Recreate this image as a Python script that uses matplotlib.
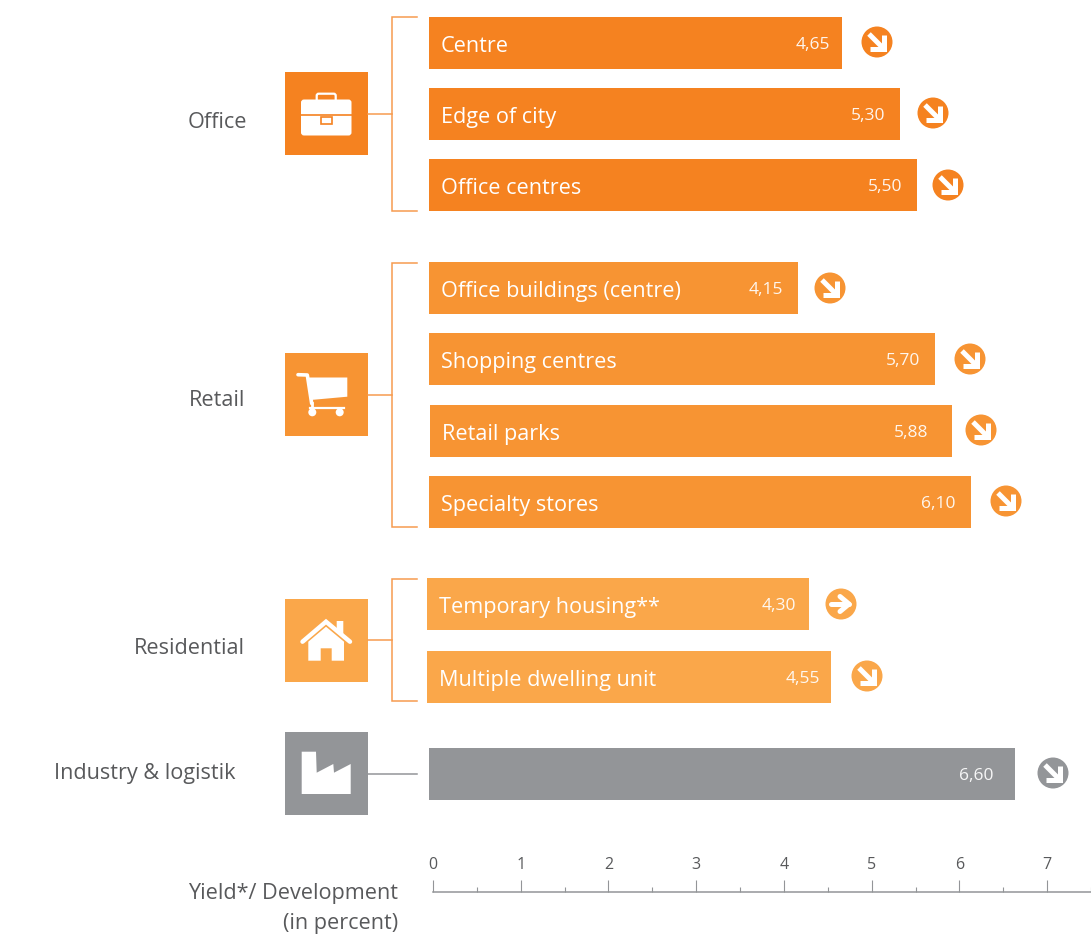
import matplotlib
matplotlib.use("Agg")
import matplotlib.pyplot as plt
from matplotlib.patches import Rectangle, Circle, Polygon, FancyBboxPatch

# Chart values
office_labels = ["Centre", "Edge of city", "Office centres"]
office_yields = [4.65, 5.30, 5.50]
retail_labels = ["Office buildings (centre)", "Shopping centres", "Retail parks", "Specialty stores"]
retail_yields = [4.15, 5.70, 5.88, 6.10]
residential_labels = ["Temporary housing**", "Multiple dwelling unit"]
residential_yields = [4.30, 4.55]
industry_labels = [""]
industry_yields = [6.60]
office_trend = ["down", "down", "down"]
retail_trend = ["down", "down", "down", "down"]
residential_trend = ["flat", "down"]
industry_trend = ["down"]
axis_ticks = [0, 1, 2, 3, 4, 5, 6, 7]

W, H = 1091, 934
ORANGE1, ORANGE2, ORANGE3, GREY = "#F58220", "#F79433", "#FAA74A", "#939598"
LINE_ORANGE = "#F79B4F"
TEXT = "#58595B"
FONT = "Open Sans"
PX_PER_UNIT_BAR = 88.8
PX_PER_UNIT_AXIS = 88.0
BAR_ZERO = 429
AXIS_ZERO = 433
LABEL_SIZE = 15.6

fig = plt.figure(figsize=(W / 100, H / 100), dpi=100, facecolor="white")

# Bars: x is in yield units, y in figure rows
bar_ax = fig.add_axes([0, 0, 1, 1])
bar_ax.set_xlim(-BAR_ZERO / PX_PER_UNIT_BAR, (W - BAR_ZERO) / PX_PER_UNIT_BAR)
bar_ax.set_ylim(H, 0)
bar_ax.axis("off")

# Overlay for icons, brackets and trend badges, in pixel units
deco = fig.add_axes([0, 0, 1, 1])
deco.set_xlim(0, W)
deco.set_ylim(H, 0)
deco.axis("off")
deco.patch.set_alpha(0)

groups = [
    dict(labels=office_labels, values=office_yields, trend=office_trend, color=ORANGE1,
         rows=[43, 114, 185], start=[0, 0, 0], text_x=[441, 441, 441],
         val_right=[830, 885, 902], badge=[(877, 42), (933, 113), (948, 185)]),
    dict(labels=retail_labels, values=retail_yields, trend=retail_trend, color=ORANGE2,
         rows=[288, 359, 431, 502], start=[0, 0, 1, 0], text_x=[441, 441, 442, 441],
         val_right=[783, 920, 928, 955], badge=[(830, 288), (970, 359), (981, 430), (1006, 501)]),
    dict(labels=residential_labels, values=residential_yields, trend=residential_trend, color=ORANGE3,
         rows=[604, 677], start=[-2, -2], text_x=[439, 439],
         val_right=[796, 820], badge=[(841, 604), (867, 676)]),
    dict(labels=industry_labels, values=industry_yields, trend=industry_trend, color=GREY,
         rows=[774], start=[0], text_x=[441],
         val_right=[993], badge=[(1053, 773)]),
]


def badge(cx, cy, kind, color):
    deco.add_patch(Circle((cx, cy), 15.5, fc=color, ec="none"))
    kw = dict(color="white", lw=3.6, solid_capstyle="butt", solid_joinstyle="miter")
    if kind == "down":
        deco.plot([cx - 8, cx + 6], [cy - 8, cy + 6], **kw)
        deco.plot([cx + 6.5, cx + 6.5, cx - 7], [cy - 7, cy + 6.5, cy + 6.5], **kw)
    else:
        kw.update(solid_capstyle="round", solid_joinstyle="round")
        deco.plot([cx - 10, cx + 8], [cy, cy], **kw)
        deco.plot([cx - 1, cx + 8, cx - 1], [cy - 7.5, cy, cy + 7.5], **kw)


for g in groups:
    for i, (name, val) in enumerate(zip(g["labels"], g["values"])):
        off = g["start"][i] / PX_PER_UNIT_BAR
        bar_ax.barh(g["rows"][i], val, left=off, height=52, color=g["color"], lw=0)
        if name:
            deco.text(g["text_x"][i], g["rows"][i] + 3.5, name, color="white",
                      family=FONT, fontsize=LABEL_SIZE, ha="left", va="center")
        deco.text(g["val_right"][i], g["rows"][i] + 2, f"{val:.2f}".replace(".", ","), color="white",
                  family=FONT, fontsize=12.5, ha="right", va="center", alpha=0.92)
        badge(*g["badge"][i], g["trend"][i], g["color"])


def icon_square(top, color):
    deco.add_patch(Rectangle((285, top), 83, 83, fc=color, ec="none"))


def bracket(top, bottom, mid):
    deco.plot([417, 392, 392, 417], [top, top, bottom, bottom], color=LINE_ORANGE, lw=1.1,
              solid_joinstyle="miter")
    deco.plot([368, 392], [mid, mid], color=LINE_ORANGE, lw=1.1)


# Office: briefcase
icon_square(72, ORANGE1)
bracket(17, 211, 114)
deco.add_patch(FancyBboxPatch((316.7, 93.7), 19, 8, boxstyle="round,pad=0,rounding_size=2",
                              fc="none", ec="white", lw=1.6))
deco.add_patch(FancyBboxPatch((301, 99.5), 50.5, 36, boxstyle="round,pad=0,rounding_size=3",
                              fc="white", ec="none"))
deco.plot([301, 351.5], [115.3, 115.3], color=ORANGE1, lw=1.2)
deco.add_patch(Rectangle((320.5, 116.5), 11.5, 7.5, fc="white", ec=ORANGE1, lw=1.2))

# Retail: shopping cart
icon_square(353, ORANGE2)
bracket(263, 527, 395)
deco.plot([298, 307.3, 311.7], [374.7, 375, 403.5], color="white", lw=2.6,
          solid_capstyle="round", solid_joinstyle="round")
deco.add_patch(Polygon([(307.5, 377.5), (347.3, 377.5), (347.3, 396.7), (310.7, 400)], fc="white", ec="none"))
deco.plot([310, 344], [407.5, 407.5], color="white", lw=1.6)
deco.plot([311.7, 311.7], [403, 408], color="white", lw=2)
for cx in (312.3, 339.7):
    deco.add_patch(Circle((cx, 412.3), 4, fc="white", ec="none"))

# Residential: house
icon_square(599, ORANGE3)
bracket(579, 701, 640)
deco.add_patch(Polygon([(336.7, 621), (343.3, 621), (343.3, 634), (336.7, 629)], fc="white", ec="none"))
deco.plot([302.5, 326, 350], [641.7, 621.7, 641.7], color="white", lw=3.2,
          solid_capstyle="round", solid_joinstyle="miter")
deco.add_patch(Polygon([(326, 626.7), (344, 641.7), (344, 660.7), (331.7, 660.7), (331.7, 648.3),
                        (320.7, 648.3), (320.7, 660.7), (308.3, 660.7), (308.3, 641.7)],
                       fc="white", ec="none"))

# Industry: factory
icon_square(732, GREY)
deco.plot([368, 417], [773.5, 773.5], color=GREY, lw=1.1)
deco.add_patch(Polygon([(301.7, 751.7), (316, 751.7), (316.7, 772.7), (333.3, 764), (334, 772.7),
                        (350.7, 764), (350.7, 794), (301.7, 794)], fc="white", ec="none"))

# Group names
for txt, x, y in [("Office", 247, 122), ("Retail", 245, 400),
                  ("Residential", 245, 648), ("Industry & logistik", 236, 773)]:
    deco.text(x, y, txt, color=TEXT, family=FONT, fontsize=LABEL_SIZE, ha="right", va="center")

# Axis caption
deco.text(398, 893, "Yield*/ Development", color=TEXT, family=FONT, fontsize=LABEL_SIZE, ha="right", va="center")
deco.text(398, 923, "(in percent)", color=TEXT, family=FONT, fontsize=LABEL_SIZE, ha="right", va="center")

# Scale axis along the bottom
scale = fig.add_axes([AXIS_ZERO / W, (H - 892) / H, (W - AXIS_ZERO) / W, 12 / H])
scale.patch.set_alpha(0)
scale.set_xlim(0, (W - AXIS_ZERO) / PX_PER_UNIT_AXIS)
scale.set_ylim(0, 1)
for side in ("left", "right", "top"):
    scale.spines[side].set_visible(False)
scale.spines["bottom"].set_color(GREY)
scale.spines["bottom"].set_linewidth(1.1)
scale.set_yticks([])
scale.set_xticks(axis_ticks)
scale.set_xticks([t + 0.5 for t in axis_ticks], minor=True)
scale.tick_params(axis="x", which="major", direction="in", length=8.6, width=0.8, color=GREY,
                  labelbottom=False, labeltop=True, pad=5, labelcolor=TEXT, labelsize=11.5)
scale.tick_params(axis="x", which="minor", direction="in", length=3.6, width=0.8, color=GREY)
for lab in scale.get_xticklabels():
    lab.set_family(FONT)

fig.savefig("out.png", dpi=100, facecolor="white")
